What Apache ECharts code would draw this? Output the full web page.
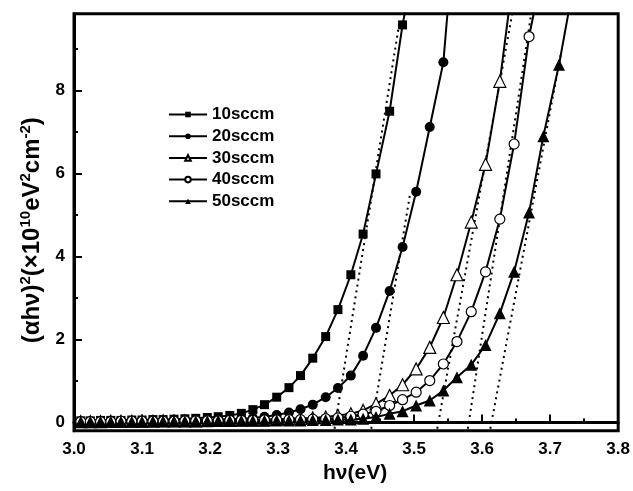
<!DOCTYPE html>
<html>
<head>
<meta charset="utf-8">
<script src="https://cdn.jsdelivr.net/npm/echarts@6/dist/echarts.min.js"></script>
<style>
html, body { margin: 0; padding: 0; background: #fff; }
#container1 { width: 633px; height: 491px; }
</style>
</head>
<body>
<div id="container1"></div>
<script>
// photon energy grid (eV), shared by all samples
var hv = [3.010, 3.024, 3.039, 3.054, 3.069, 3.085, 3.100, 3.116, 3.131, 3.147,
  3.163, 3.179, 3.196, 3.212, 3.229, 3.246, 3.263, 3.280, 3.298, 3.316,
  3.333, 3.351, 3.370, 3.388, 3.407, 3.425, 3.444, 3.464, 3.483, 3.503,
  3.523, 3.543, 3.563, 3.584, 3.605, 3.626, 3.647, 3.669, 3.690, 3.713, 3.735];

var names = ['10sccm', '20sccm', '30sccm', '40sccm', '50sccm'];

// (alpha h nu)^2 in 1e10 eV^2 cm^-2
var y10 = [0.04, 0.04, 0.05, 0.05, 0.05, 0.06, 0.06, 0.07, 0.07, 0.08,
  0.09, 0.10, 0.12, 0.14, 0.17, 0.22, 0.31, 0.43, 0.61, 0.84,
  1.13, 1.55, 2.07, 2.72, 3.56, 4.54, 5.99, 7.50, 9.58, 11.3];
var y20 = [0.03, 0.03, 0.03, 0.04, 0.04, 0.04, 0.04, 0.05, 0.05, 0.05,
  0.05, 0.06, 0.06, 0.07, 0.08, 0.09, 0.11, 0.14, 0.18, 0.24,
  0.32, 0.43, 0.61, 0.83, 1.13, 1.61, 2.28, 3.17, 4.23, 5.56,
  7.12, 8.68, 12.6];
var y30 = [0.02, 0.02, 0.02, 0.03, 0.03, 0.03, 0.03, 0.03, 0.04, 0.04,
  0.04, 0.04, 0.05, 0.05, 0.05, 0.06, 0.06, 0.07, 0.08, 0.09,
  0.10, 0.11, 0.13, 0.17, 0.21, 0.29, 0.45, 0.65, 0.91, 1.29,
  1.81, 2.53, 3.56, 4.83, 6.22, 8.22, 10.9];
var y40 = [0.02, 0.02, 0.02, 0.02, 0.03, 0.03, 0.03, 0.03, 0.03, 0.03,
  0.04, 0.04, 0.04, 0.04, 0.05, 0.05, 0.05, 0.06, 0.06, 0.07,
  0.07, 0.08, 0.09, 0.11, 0.15, 0.20, 0.27, 0.41, 0.55, 0.73,
  1.01, 1.41, 1.95, 2.67, 3.63, 4.90, 6.71, 9.30, 11.0];
var y50 = [0.02, 0.02, 0.02, 0.02, 0.02, 0.02, 0.02, 0.03, 0.03, 0.03,
  0.03, 0.03, 0.03, 0.04, 0.04, 0.04, 0.04, 0.04, 0.05, 0.05,
  0.05, 0.06, 0.06, 0.07, 0.07, 0.09, 0.13, 0.21, 0.27, 0.41,
  0.53, 0.77, 1.09, 1.39, 1.87, 2.63, 3.63, 5.06, 6.90, 8.62, 10.6];

// linear extrapolation (Tauc) lines: [hv, value] end points
var fit10 = [[3.383, -0.15], [3.478, 9.6]];
var fit20 = [[3.437, -0.15], [3.494, 5.5]];
var fit30 = [[3.534, -0.15], [3.644, 9.83]];
var fit40 = [[3.579, -0.15], [3.672, 9.83]];
var fit50 = [[3.612, -0.15], [3.716, 8.9]];

var yMajor = [0, 2, 4, 6, 8];
var yMinor = [1, 3, 5, 7, 9];

var FONT = '"Liberation Sans", Arial, sans-serif';

function pairs(ys) {
  var out = [];
  for (var i = 0; i < ys.length; i++) out.push([hv[i], ys[i]]);
  return out;
}

var dom = document.getElementById('container1');
var myChart = echarts.init(dom);

var marks = [
  { data: y10, symbol: 'rect', size: 9, fill: '#000' },
  { data: y20, symbol: 'circle', size: 10, fill: '#000' },
  { data: y30, symbol: 'triangle', size: 12, fill: '#fff' },
  { data: y40, symbol: 'circle', size: 10, fill: '#fff' },
  { data: y50, symbol: 'triangle', size: 12, fill: '#000' }
];
var fits = [fit10, fit20, fit30, fit40, fit50];

var series = [];
fits.forEach(function (f) {
  series.push({
    type: 'line',
    data: f,
    symbol: 'none',
    silent: true,
    lineStyle: { color: '#000', width: 2, type: [2, 4] },
    z: 1
  });
});
marks.forEach(function (m, i) {
  series.push({
    name: names[i],
    type: 'line',
    data: pairs(m.data),
    symbol: m.symbol,
    symbolSize: m.size,
    showAllSymbol: true,
    clip: true,
    lineStyle: { color: '#000', width: 2 },
    itemStyle: { color: m.fill, borderColor: '#000', borderWidth: m.fill === '#fff' ? 1.2 : 0 },
    z: 3
  });
});

var option = {
  backgroundColor: '#fff',
  animation: false,
  grid: {
    left: 74, right: 10.5, top: 13.7, bottom: 60.2,
    show: true, borderColor: '#000', borderWidth: 3, backgroundColor: 'transparent'
  },
  legend: {
    data: names,
    orient: 'vertical',
    left: 163,
    top: 101,
    itemWidth: 38,
    itemHeight: 7,
    itemGap: 4.7,
    textStyle: { fontSize: 17, fontWeight: 'bold', fontFamily: FONT, color: '#000', lineHeight: 17 }
  },
  xAxis: {
    type: 'value',
    min: 3.0,
    max: 3.8,
    interval: 0.1,
    name: 'hν(eV)',
    nameLocation: 'middle',
    nameGap: 28,
    nameTextStyle: { fontSize: 21, fontWeight: 'bold', fontFamily: FONT, color: '#000', padding: [0, 0, 0, 18] },
    axisLine: { lineStyle: { color: '#000', width: 3 } },
    axisTick: { inside: true, length: 8, lineStyle: { color: '#000', width: 2 } },
    minorTick: { show: true, splitNumber: 2, length: 4, lineStyle: { color: '#000', width: 2 } },
    splitLine: { show: false },
    axisLabel: {
      margin: 10, fontSize: 17, fontWeight: 'bold', fontFamily: FONT, color: '#000',
      formatter: function (v) { return v.toFixed(1); }
    }
  },
  yAxis: [{
    type: 'value',
    min: -0.2,
    max: 9.85,
    position: 'left',
    name: '{b|(αhν)}{s|2}{b|(×10}{s|10}{b|eV}{s|2}{b|cm}{s|-2}{b|)}',
    nameLocation: 'middle',
    nameRotate: 90,
    nameGap: 27,
    nameTextStyle: {
      padding: [0, 16, 0, 0],
      rich: {
        b: { fontSize: 24, fontWeight: 'bold', fontFamily: FONT, color: '#000', lineHeight: 28 },
        s: { fontSize: 15, fontWeight: 'bold', fontFamily: FONT, color: '#000', verticalAlign: 'top' }
      }
    },
    axisLine: { show: true, lineStyle: { color: '#000', width: 3 } },
    axisTick: { show: true, inside: true, length: 8, customValues: yMajor, lineStyle: { color: '#000', width: 2 } },
    splitLine: { show: false },
    axisLabel: {
      margin: 9, fontSize: 17, fontWeight: 'bold', fontFamily: FONT, color: '#000',
      customValues: yMajor
    }
  }, {
    type: 'value',
    min: -0.2,
    max: 9.85,
    position: 'left',
    offset: 0,
    axisLine: { show: false },
    axisTick: { show: true, inside: true, length: 4, customValues: yMinor, lineStyle: { color: '#000', width: 2 } },
    axisLabel: { show: false },
    splitLine: { show: false }
  }],
  series: series
};

myChart.setOption(option);
</script>
</body>
</html>
